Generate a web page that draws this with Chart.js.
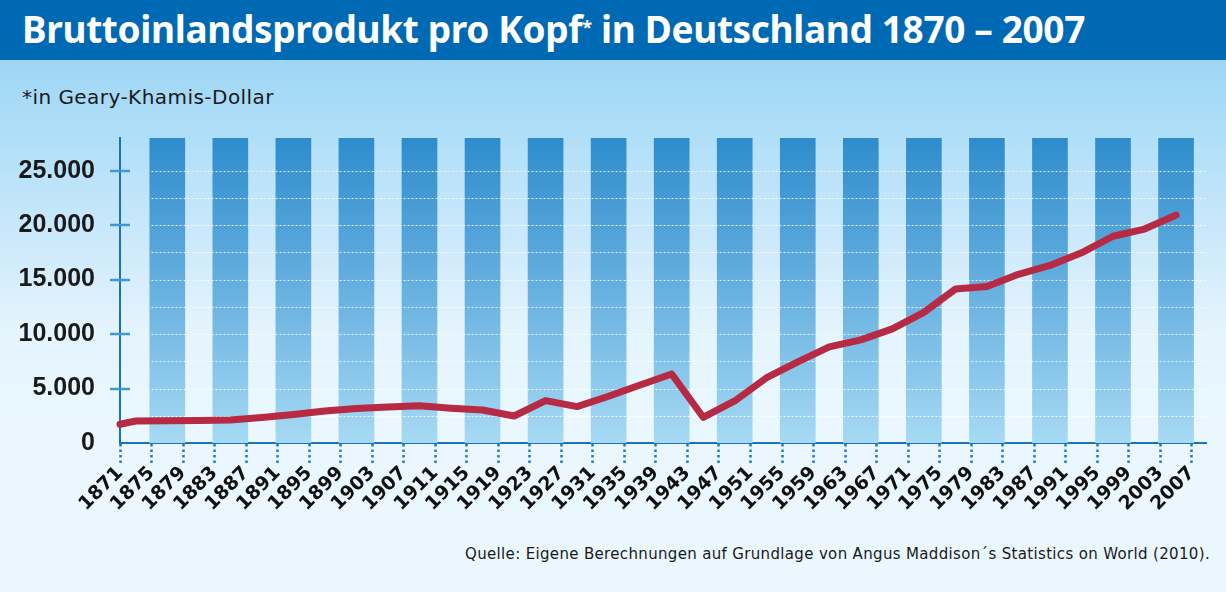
<!DOCTYPE html>
<html><head><meta charset="utf-8">
<script src="https://cdn.jsdelivr.net/npm/chart.js@4.4.0/dist/chart.umd.min.js"></script>
<style>
html,body{margin:0;padding:0;width:1226px;height:592px;overflow:hidden;}
body{position:relative;font-family:"DejaVu Sans","Liberation Sans",sans-serif;
 background:linear-gradient(to bottom,#9ed6f5 0px,#9ed6f5 60px,#b1dff8 140px,#cfeafb 250px,#e4f4fd 330px,#eaf7fe 420px,#eaf7fe 592px);}
#bar{position:absolute;left:0;top:0;width:1226px;height:60px;background:#0069b4;}
#title{position:absolute;left:22px;top:6px;color:#fff;font-weight:bold;font-size:37px;line-height:46px;white-space:nowrap;font-family:"Noto Sans","Liberation Sans",sans-serif;}
#title sup{font-size:18px;vertical-align:top;position:relative;top:-2px;}
#sub{position:absolute;left:22px;top:85px;font-size:20px;line-height:24px;color:#1a1a1a;white-space:nowrap;}
#src{position:absolute;left:465px;top:545px;font-size:15px;line-height:18px;color:#1a1a1a;white-space:nowrap;}
canvas{position:absolute;left:0;top:0;}
</style></head>
<body>
<div id="bar"></div>
<div id="title">Bruttoinlandsprodukt pro Kopf<sup>*</sup> in Deutschland 1870 – 2007</div>
<div id="sub">*in Geary-Khamis-Dollar</div>
<div id="src">Quelle: Eigene Berechnungen auf Grundlage von Angus Maddison´s Statistics on World (2010).</div>
<canvas id="c" width="1226" height="592"></canvas>
<script>
// ---- data ----
const tickYears = [1871,1875,1879,1883,1887,1891,1895,1899,1903,1907,1911,1915,1919,1923,1927,1931,1935,1939,1943,1947,1951,1955,1959,1963,1967,1971,1975,1979,1983,1987,1991,1995,1999,2003,2007];
const yTicks = [0,5000,10000,15000,20000,25000];
const gridValues = [2500,5000,7500,10000,12500,15000,17500,20000,22500,25000];
const lineYears = [1871,1873,1877,1881,1885,1889,1893,1897,1901,1905,1909,1913,1917,1921,1925,1929,1933,1937,1941,1945,1949,1953,1957,1961,1965,1969,1973,1977,1981,1985,1989,1993,1997,2001,2005];
const lineValues = [1720,2020,2050,2070,2110,2340,2620,2940,3170,3310,3430,3200,3030,2480,3890,3340,4290,5330,6340,2360,3860,5970,7440,8820,9470,10480,11990,14130,14370,15490,16300,17460,18980,19640,20920];
const stripeYears = [1877,1885,1893,1901,1909,1917,1925,1933,1941,1949,1957,1965,1973,1981,1989,1997,2005];
const stripeValues = [28000,28000,28000,28000,28000,28000,28000,28000,28000,28000,28000,28000,28000,28000,28000,28000,28000];
const xMin = 1871, xMax = 2008.8, yMax = 28000, gridStartYear = 1875;

// ---- text fitting ----
function fit(id, target){
  const el = document.getElementById(id);
  const w = el.getBoundingClientRect().width;
  const n = el.textContent.length;
  el.style.letterSpacing = ((target - w) / n) + 'px';
}
fit('title', 1063); fit('sub', 252); fit('src', 745);

const fmt = v => String(v).replace(/\B(?=(\d{3})+(?!\d))/g, '.');

const overlay = {
  id: 'overlay',
  afterDatasetDraw(chart, args){
    if (args.index !== 1) return;
    const {ctx, chartArea, scales:{x, y}} = chart;
    ctx.save();
    ctx.strokeStyle = 'rgba(255,255,255,0.85)';
    ctx.lineWidth = 1;
    ctx.setLineDash([2,2]);
    const x0 = x.getPixelForValue(gridStartYear);
    for (const v of gridValues){
      const py = Math.round(y.getPixelForValue(v)) + 0.5;
      ctx.beginPath(); ctx.moveTo(x0, py); ctx.lineTo(chartArea.right, py); ctx.stroke();
    }
    ctx.restore();
  },
  afterDraw(chart){
    const {ctx, scales:{y}} = chart;
    ctx.save();
    ctx.strokeStyle = '#3f98d3';
    ctx.lineWidth = 2.5;
    for (const v of yTicks){
      if (v === 0) continue;
      const py = Math.round(y.getPixelForValue(v));
      ctx.beginPath(); ctx.moveTo(y.right - 10, py); ctx.lineTo(y.right + 10, py); ctx.stroke();
    }
    ctx.restore();
  }
};

new Chart(document.getElementById('c'), {
  data: {
    datasets: [
      {
        type: 'line',
        data: lineYears.map((yr, i) => ({x: yr, y: lineValues[i]})),
        borderColor: '#b62a44',
        borderWidth: 7,
        pointRadius: 0,
        tension: 0,
        borderCapStyle: 'round',
        borderJoinStyle: 'round',
        clip: false,
        order: 0
      },
      {
        type: 'bar',
        data: stripeYears.map((yr, i) => ({x: yr, y: stripeValues[i]})),
        barThickness: 35,
        borderWidth: 0,
        order: 1,
        backgroundColor: (c) => {
          const {ctx, chartArea} = c.chart;
          if (!chartArea) return '#5eaade';
          const g = ctx.createLinearGradient(0, chartArea.top, 0, chartArea.bottom);
          g.addColorStop(0, '#2e8ccc');
          g.addColorStop(0.55, '#6db4e2');
          g.addColorStop(1, '#a7daf4');
          return g;
        }
      }
    ]
  },
  options: {
    responsive: false,
    animation: false,
    layout: {padding: {left: 0, top: 138, right: 20, bottom: 0}},
    plugins: {legend: {display: false}, tooltip: {enabled: false}},
    scales: {
      x: {
        type: 'linear', min: xMin, max: xMax, offset: false,
        afterFit: s => { s.height = 149; },
        afterBuildTicks: s => { s.ticks = tickYears.map(v => ({value: v})); },
        grid: {display: true, offset: false, drawOnChartArea: false, drawTicks: true, tickLength: 20,
               tickColor: '#1a7cc4', tickWidth: 2.5, tickBorderDash: [2.5, 3]},
        border: {display: true, color: '#1a72ba', width: 2},
        ticks: {autoSkip: false, minRotation: 45, maxRotation: 45, padding: -1, color: '#111',
                font: {family: 'DejaVu Sans', weight: 'bold', size: 19},
                callback: v => String(v)}
      },
      y: {
        min: 0, max: yMax,
        afterFit: s => { s.width = 120; },
        afterBuildTicks: s => { s.ticks = yTicks.map(v => ({value: v})); },
        grid: {display: false},
        border: {display: true, color: '#1a72ba', width: 2},
        ticks: {padding: 17, color: '#1a1a1a',
                font: {family: 'Liberation Sans', weight: 'bold', size: 25},
                callback: v => fmt(v)}
      }
    }
  },
  plugins: [overlay]
});
</script>
</body></html>
